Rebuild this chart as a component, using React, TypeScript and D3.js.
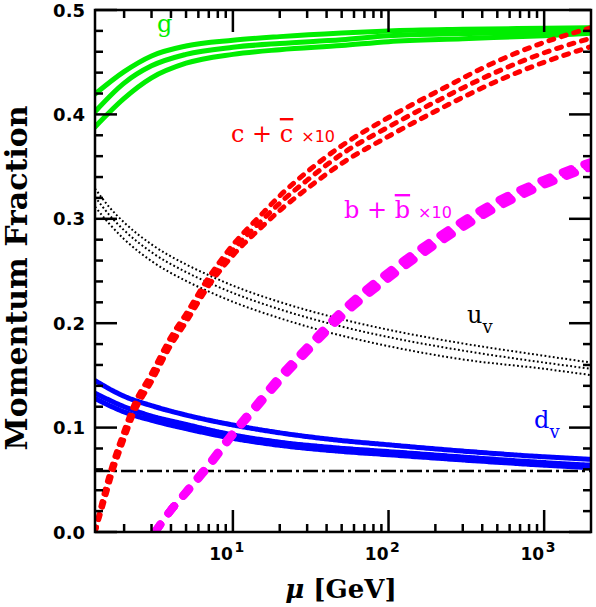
import * as d3 from 'd3';

// scale range (GeV)
const muDomain = [1.3, 2000];
const yDomain = [0, 0.5];

// gluon, three bands
const muG = [1.3, 2, 3, 5, 10, 20, 50, 100, 300, 1000, 2000];
const gTop = [0.4195, 0.441, 0.456, 0.4655, 0.471, 0.4745, 0.478, 0.48, 0.4815, 0.4825, 0.483];
const gMid = [0.4026, 0.43, 0.4465, 0.4575, 0.4643, 0.468, 0.4715, 0.4754, 0.4775, 0.479, 0.481];
const gBot = [0.388, 0.4154, 0.435, 0.449, 0.4575, 0.462, 0.466, 0.4697, 0.4725, 0.4754, 0.4777];

// charm x10
const muC = [1.3, 1.5, 1.7, 2, 2.3, 3, 4, 5, 7, 10, 15, 20, 30, 50, 100, 200, 500, 1000, 2000];
const cTop = [0, 0.039, 0.067, 0.097, 0.121, 0.152, 0.187, 0.209, 0.244, 0.275, 0.303, 0.322, 0.345, 0.37, 0.397, 0.421, 0.451, 0.469, 0.483];
const cMid = [0, 0.035, 0.063, 0.093, 0.117, 0.148, 0.183, 0.205, 0.24, 0.27, 0.297, 0.315, 0.337, 0.362, 0.388, 0.412, 0.441, 0.459, 0.473];
const cBot = [0, 0.031, 0.059, 0.089, 0.113, 0.144, 0.179, 0.201, 0.236, 0.265, 0.291, 0.308, 0.329, 0.353, 0.379, 0.403, 0.432, 0.45, 0.465];

// bottom x10
const muB = [3.16, 4, 5, 7, 10, 15, 20, 30, 50, 100, 200, 500, 1000, 2000];
const bTop = [0, 0.021, 0.0385, 0.065, 0.095, 0.1265, 0.149, 0.177, 0.2115, 0.249, 0.281, 0.317, 0.3375, 0.3545];
const bMid = [0, 0.021, 0.038, 0.064, 0.094, 0.125, 0.147, 0.175, 0.209, 0.246, 0.278, 0.314, 0.335, 0.352];
const bBot = [0, 0.021, 0.0375, 0.063, 0.093, 0.1235, 0.145, 0.173, 0.2065, 0.243, 0.275, 0.311, 0.3325, 0.3495];

// valence up
const muU = [1.3, 1.6, 2, 3, 5, 7, 10, 20, 45, 100, 300, 1000, 2000];
const uTop = [0.329, 0.3115, 0.2965, 0.2755, 0.2563, 0.246, 0.236, 0.2203, 0.2055, 0.1937, 0.1806, 0.1688, 0.1623];
const uMid = [0.321, 0.304, 0.289, 0.268, 0.249, 0.2388, 0.229, 0.2133, 0.1985, 0.1867, 0.1738, 0.1623, 0.1563];
const uBot = [0.3116, 0.2955, 0.2805, 0.2595, 0.2405, 0.2303, 0.2205, 0.2048, 0.1898, 0.178, 0.1653, 0.1563, 0.1503];

// valence down
const muD = [1.3, 2, 3, 5, 10, 20, 47, 100, 300, 1000, 2000];
const dTop = [0.145, 0.13, 0.121, 0.112, 0.1025, 0.095, 0.088, 0.0835, 0.0775, 0.072, 0.0696];
const dMid = [0.133, 0.12, 0.111, 0.103, 0.093, 0.086, 0.0805, 0.077, 0.0718, 0.0665, 0.064];
const dBot = [0.128, 0.115, 0.107, 0.099, 0.0897, 0.083, 0.0775, 0.074, 0.069, 0.064, 0.0615];

// dash-dot reference level
const muRef = [1.3, 2000];
const refLevel = [0.0585, 0.0585];

const xMajor = [10, 100, 1000];
const xMinor = [2, 3, 4, 5, 6, 7, 8, 9, 20, 30, 40, 50, 60, 70, 80, 90, 200, 300, 400, 500, 600, 700, 800, 900];
const xExp = ['1', '2', '3'];
const yMajor = [0, 0.1, 0.2, 0.3, 0.4, 0.5];
const yMinor = d3.range(0, 0.5001, 0.02);

const W = 596, H = 607;
const left = 95, right = 591, top = 10, bottom = 532;
const serif = '"DejaVu Serif", serif';
const sans = '"DejaVu Sans", sans-serif';

export default function App() {
  const x = d3.scaleLog().domain(muDomain).range([left, right]);
  const y = d3.scaleLinear().domain(yDomain).range([bottom, top]);
  const line = d3.line<[number, number]>()
    .x(d => x(d[0]))
    .y(d => y(d[1]))
    .curve(d3.curveMonotoneX);
  const path = (mu: number[], v: number[]) => line(mu.map((m, i) => [m, v[i]] as [number, number])) || '';

  const tickW = 2.5;
  const major = 22, minor = 8;

  return (
    <svg width={W} height={H} style={{ position: 'absolute', left: 0, top: 0, background: '#fff' }}>
      <defs>
        <clipPath id="plot">
          <rect x={left} y={top - 5} width={right - left} height={bottom - top + 5} />
        </clipPath>
      </defs>

      <g clipPath="url(#plot)" fill="none">
        <path d={path(muRef, refLevel)} stroke="#000" strokeWidth={2.5} strokeDasharray="15 4 3 4" />
        {[uTop, uMid, uBot].map((v, i) => (
          <path key={'u' + i} d={path(muU, v)} stroke="#000" strokeWidth={2} strokeDasharray="1.8 2.4" />
        ))}
        {[dTop, dMid, dBot].map((v, i) => (
          <path key={'d' + i} d={path(muD, v)} stroke="#0000ff" strokeWidth={5} strokeDasharray="3.5 1" strokeLinecap="round" />
        ))}
        {[gTop, gMid, gBot].map((v, i) => (
          <path key={'g' + i} d={path(muG, v)} stroke="#00ee00" strokeWidth={5} strokeLinecap="round" />
        ))}
        {[cTop, cMid, cBot].map((v, i) => (
          <path key={'c' + i} d={path(muC, v)} stroke="#ff0000" strokeWidth={5} strokeDasharray="5 8" strokeLinecap="round" />
        ))}
        {[bTop, bMid, bBot].map((v, i) => (
          <path key={'b' + i} d={path(muB, v)} stroke="#ff00ff" strokeWidth={8} strokeDasharray="9 14" strokeLinecap="round" />
        ))}
      </g>

      {/* frame */}
      <rect x={left} y={top} width={right - left} height={bottom - top} fill="none" stroke="#000" strokeWidth={2.5} />

      {/* ticks */}
      <g stroke="#000" strokeWidth={tickW}>
        {xMajor.map(t => (
          <g key={'xM' + t}>
            <line x1={x(t)} x2={x(t)} y1={bottom} y2={bottom - major} />
            <line x1={x(t)} x2={x(t)} y1={top} y2={top + major} />
          </g>
        ))}
        {xMinor.map(t => (
          <g key={'xm' + t}>
            <line x1={x(t)} x2={x(t)} y1={bottom} y2={bottom - minor} />
            <line x1={x(t)} x2={x(t)} y1={top} y2={top + minor} />
          </g>
        ))}
        {yMinor.map((t, i) => {
          const len = i % 5 === 0 ? major : minor;
          return (
            <g key={'y' + i}>
              <line x1={left} x2={left + len} y1={y(t)} y2={y(t)} />
              <line x1={right} x2={right - len} y1={y(t)} y2={y(t)} />
            </g>
          );
        })}
      </g>

      {/* tick labels */}
      <g fontFamily={sans} fontWeight="bold" fill="#000">
        {yMajor.map(t => (
          <text key={'yl' + t} x={left - 10} y={y(t) + 6.5} fontSize={18} textAnchor="end">{t.toFixed(1)}</text>
        ))}
        {xMajor.map((t, i) => (
          <g key={'xl' + t}>
            <text x={x(t)} y={560} fontSize={17} textAnchor="end">10</text>
            <text x={x(t) + 1.5} y={552} fontSize={14} textAnchor="start">{xExp[i]}</text>
          </g>
        ))}
      </g>

      {/* axis titles */}
      <text x={341} y={598} fontFamily={serif} fontWeight="bold" fontSize={26} textAnchor="middle">
        <tspan fontStyle="italic">μ</tspan> [GeV]
      </text>
      <text transform={`translate(27,${278}) rotate(-90)`} fontFamily={serif} fontWeight="bold" fontSize={30} textAnchor="middle">
        Momentum Fraction
      </text>

      {/* curve labels */}
      <text x={157} y={32} fontFamily={serif} fontSize={24} fill="#00ee00">g</text>
      <text x={231} y={142} fontFamily={serif} fontSize={24} fill="#ff0000">
        c + <tspan textDecoration="overline">c</tspan>
        <tspan fontFamily={sans} fontSize={16} dx={8}>×10</tspan>
      </text>
      <text x={344} y={218} fontFamily={serif} fontSize={24} fill="#ff00ff">
        b + <tspan textDecoration="overline">b</tspan>
        <tspan fontFamily={sans} fontSize={16} dx={8}>×10</tspan>
      </text>
      <text x={467} y={323} fontFamily={serif} fontSize={24} fill="#000">
        u<tspan fontSize={18} dy={10}>v</tspan>
      </text>
      <text x={534} y={428} fontFamily={serif} fontSize={24} fill="#0000ff">
        d<tspan fontSize={18} dy={10}>v</tspan>
      </text>
    </svg>
  );
}
